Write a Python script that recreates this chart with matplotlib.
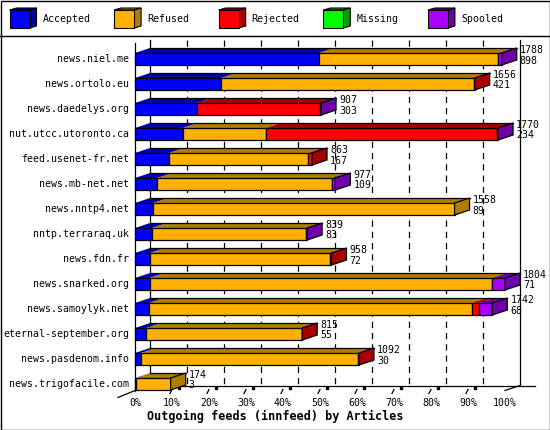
#!/usr/bin/env python3
import matplotlib
matplotlib.use("Agg")
import matplotlib.pyplot as plt
from matplotlib.patches import Polygon, Rectangle

hosts = ["news.niel.me", "news.ortolo.eu", "news.daedelys.org", "nut.utcc.utoronto.ca",
         "feed.usenet-fr.net", "news.mb-net.net", "news.nntp4.net", "nntp.terraraq.uk",
         "news.fdn.fr", "news.snarked.org", "news.samoylyk.net", "eternal-september.org",
         "news.pasdenom.info", "news.trigofacile.com"]
accepted = [898, 421, 303, 234, 167, 109, 89, 83, 72, 71, 68, 55, 30, 3]
refused = [873, 1232, 0, 404, 675, 850, 1469, 749, 880, 1670, 1573, 757, 1056, 171]
rejected = [0, 3, 601, 1129, 21, 0, 0, 0, 6, 0, 34, 3, 6, 0]
missing = [0, 0, 0, 0, 0, 0, 0, 0, 0, 0, 0, 0, 0, 0]
spooled = [17, 0, 3, 3, 0, 18, 0, 7, 0, 63, 67, 0, 0, 0]
categories = ["Accepted", "Refused", "Rejected", "Missing", "Spooled"]
ticks = [0, 10, 20, 30, 40, 50, 60, 70, 80, 90, 100]

front_colors = ["#0000ff", "#ffb000", "#ff0000", "#00ff00", "#aa00ff"]
dark_colors = ["#0000a8", "#b07c00", "#a80000", "#00a000", "#7000a8"]

plt.rcParams["font.family"] = ["DejaVu Sans Mono"]
FS = 7.1

W, H = 550, 430
fig = plt.figure(figsize=(5.5, 4.3), dpi=100)

# frame and legend, drawn in pixel space
deco = fig.add_axes([0, 0, 1, 1])
deco.set_xlim(0, W)
deco.set_ylim(H, 0)
deco.axis("off")
deco.add_patch(Rectangle((0.5, 0.5), W - 1, H - 1, fill=False, lw=1.0, ec="black"))
deco.plot([0, W], [36, 36], color="black", lw=1.0)
for i, cat in enumerate(categories):
    bx = 9.5 + 104.6 * i
    deco.add_patch(Polygon([(bx, 10), (bx + 7, 8), (bx + 27, 8), (bx + 20, 10)],
                           closed=True, fc=dark_colors[i], ec="black", lw=0.8))
    deco.add_patch(Polygon([(bx + 20, 10), (bx + 27, 8), (bx + 27, 26), (bx + 20, 28)],
                           closed=True, fc=dark_colors[i], ec="black", lw=0.8))
    deco.add_patch(Rectangle((bx, 10), 20, 18, fc=front_colors[i], ec="black", lw=0.8))
    deco.text(bx + 33, 19, cat, ha="left", va="center", fontsize=FS)

# main plot: x in percent, y in rows
PX = 3.7
ROW = 25.0
x0px, y0px = 135, 59
top_px, bot_px = 36, 391
ax = fig.add_axes([x0px / W, (H - bot_px) / H, 100 * PX / W, (bot_px - top_px) / H])
ax.set_xlim(0, 100)
ax.set_ylim((bot_px - y0px) / ROW, (top_px - y0px) / ROW)
ax.axis("off")

DX = 15 / PX
DY = 5 / ROW
HH = 6 / ROW
wall_top = (40 - y0px) / ROW
r_fb = (385.5 - y0px) / ROW
r_ff = (390.5 - y0px) / ROW

kw = dict(color="black", lw=0.9, clip_on=False, zorder=1)
ax.plot([DX, DX], [wall_top, r_fb], **kw)
ax.plot([100 + DX, 100 + DX], [wall_top, r_fb], **kw)
for t in ticks[1:-1]:
    ax.plot([t + DX, t + DX], [wall_top, r_fb], dashes=(5, 4), **kw)
ax.plot([0, 0], [(43 - y0px) / ROW, r_ff], **kw)
ax.plot([DX, (535 - x0px) / PX], [r_fb, r_fb], **kw)
ax.plot([0, -17 / PX], [r_ff, r_ff + 7 / ROW], **kw)
ax.plot([100, 100 + DX], [r_ff, r_fb], **kw)
for t in ticks[1:-1]:
    ax.plot([t - 2 / PX, t], [r_ff + 3 / ROW, r_ff - 1 / ROW], **kw)
    ax.plot([t + 7.3 / PX], [r_ff - 3 / ROW], marker="s", ms=2, color="black",
            clip_on=False, zorder=1)
for t in ticks:
    ax.text(t, (403 - y0px) / ROW, f"{t}%", ha="center", va="center", fontsize=FS)
fig.text(0.5, 1 - 416.5 / H, "Outgoing feeds (innfeed) by Articles", ha="center",
         va="center", fontsize=8.5, fontweight="bold")

series = [accepted, refused, rejected, missing, spooled]
totals = [sum(s[r] for s in series) for r in range(len(hosts))]
scale = 100.0 / max(totals)

for r, host in enumerate(hosts):
    ax.text(-6 / PX, r, host, ha="right", va="center", fontsize=FS)
    cum = 0
    last = 0
    for j, s in enumerate(series):
        v = s[r]
        if v == 0:
            continue
        xa = cum * scale
        xb = (cum + v) * scale
        ax.add_patch(Polygon([(xa, r - HH), (xb, r - HH), (xb + DX, r - HH - DY),
                              (xa + DX, r - HH - DY)], closed=True, fc=dark_colors[j],
                             ec="none", clip_on=False, zorder=2))
        ax.add_patch(Rectangle((xa, r - HH), xb - xa, 2 * HH, fc=front_colors[j],
                               ec="black", lw=0.9, clip_on=False, zorder=3))
        cum += v
        last = j
    xe = cum * scale
    ax.add_patch(Polygon([(xe, r - HH), (xe + DX, r - HH - DY), (xe + DX, r + HH - DY),
                          (xe, r + HH)], closed=True, fc=dark_colors[last], ec="black",
                         lw=0.9, clip_on=False, zorder=3))
    ax.plot([DX, xe + DX], [r - HH - DY, r - HH - DY], color="black", lw=0.9,
            clip_on=False, zorder=3)
    ax.text(xe + DX + 3 / PX, r - 9 / ROW, str(totals[r]), ha="left", va="center",
            fontsize=FS, zorder=4)
    ax.text(xe + DX + 3 / PX, r + 1.5 / ROW, str(accepted[r]), ha="left", va="center",
            fontsize=FS, zorder=4)

fig.savefig("out.png", dpi=100)
